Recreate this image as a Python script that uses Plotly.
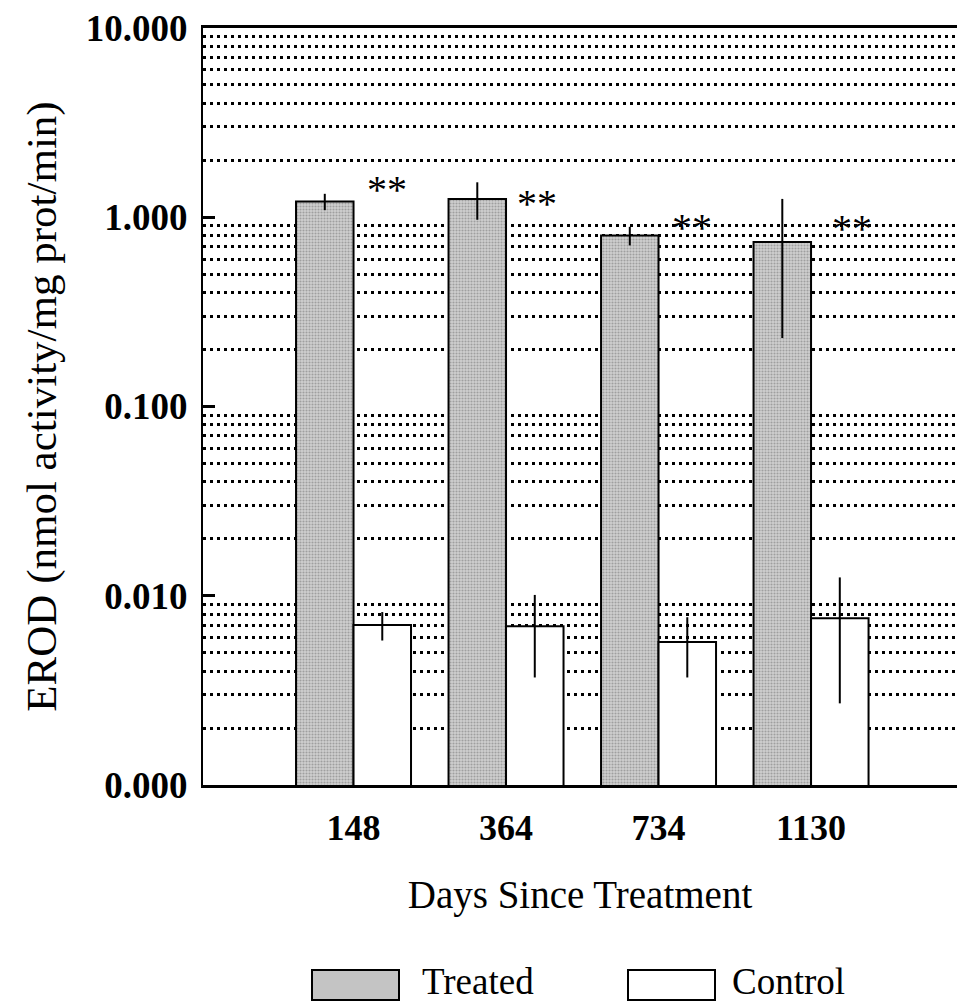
import math
import plotly.graph_objects as go

# ---- data ----
days = ["148", "364", "734", "1130"]
treated = [1.21, 1.25, 0.80, 0.74]
treated_err = [0.12, 0.28, 0.09, 0.51]
control = [0.0070, 0.0069, 0.0057, 0.0076]
control_err = [0.0012, 0.0032, 0.0020, 0.0049]
star_labels = ["**", "**", "**", "**"]
star_y = [1.40, 1.18, 0.88, 0.87]
star_dx = [0.22, 0.20, 0.22, 0.27]
ytick_vals = [0.001, 0.01, 0.1, 1, 10]
ytick_text = ["0.000", "0.010", "0.100", "1.000", "10.000"]

SERIF = "Liberation Serif"
xpos = list(range(len(days)))

fig = go.Figure()
fig.add_trace(go.Bar(
    name="Treated", x=xpos, y=treated,
    marker=dict(color="#c4c4c4", line=dict(color="black", width=2),
                pattern=dict(shape=".", fgcolor="#6e6e6e", bgcolor="#d0d0d0",
                             size=3, solidity=0.4)),
    error_y=dict(type="data", array=treated_err, color="black", thickness=2, width=0),
))
fig.add_trace(go.Bar(
    name="Control", x=xpos, y=control,
    marker=dict(color="white", line=dict(color="black", width=2)),
    error_y=dict(type="data", array=control_err, color="black", thickness=2, width=0),
))

annotations = []
for i, (t, yv, dx) in enumerate(zip(star_labels, star_y, star_dx)):
    annotations.append(dict(x=i + dx, y=math.log10(yv), xref="x", yref="y", text=t,
                            showarrow=False, font=dict(family=SERIF, size=40, color="black"),
                            xanchor="center", yanchor="middle"))

# manual legend (large swatches as in the reference)
W, H = 754.0, 757.0
def px(xp):
    return (xp - 203) / W
def py(yp):
    return (785 - yp) / H

shapes = [
    dict(type="rect", xref="paper", yref="paper", x0=px(312), x1=px(399), y0=py(1000), y1=py(970),
         line=dict(color="black", width=2), fillcolor="#c4c4c4", layer="above"),
    dict(type="rect", xref="paper", yref="paper", x0=px(628), x1=px(715), y0=py(1000), y1=py(970),
         line=dict(color="black", width=2), fillcolor="white", layer="above"),
]
annotations += [
    dict(x=px(420), y=py(981), xref="paper", yref="paper", text="Treated", showarrow=False,
         xanchor="left", yanchor="middle", font=dict(family=SERIF, size=37, color="black")),
    dict(x=px(730), y=py(981), xref="paper", yref="paper", text="Control", showarrow=False,
         xanchor="left", yanchor="middle", font=dict(family=SERIF, size=37, color="black")),
]

minor_vals = [m * 10 ** k for k in range(-3, 1) for m in range(2, 10)]

fig.update_layout(
    width=957, height=1003,
    margin=dict(l=203, r=0, t=28, b=218),
    paper_bgcolor="white", plot_bgcolor="white",
    barmode="group", bargap=0.246, bargroupgap=0,
    showlegend=False,
    font=dict(family=SERIF, color="black"),
    annotations=annotations,
    shapes=shapes,
)
fig.update_xaxes(
    range=[-0.987, 3.957],
    tickmode="array", tickvals=xpos, ticktext=days,
    tickfont=dict(family=SERIF, size=36, color="black", weight="bold"),
    ticks="", ticklabelstandoff=9,
    showline=True, linecolor="black", linewidth=3, mirror=True,
    showgrid=False, zeroline=False,
    title=dict(text="Days Since Treatment", font=dict(family=SERIF, size=39, color="black"), standoff=34),
)
fig.update_yaxes(
    type="log", range=[-3, 1],
    tickmode="array", tickvals=ytick_vals, ticktext=ytick_text,
    tickfont=dict(family=SERIF, size=37, color="black", weight="bold"),
    ticks="inside", ticklen=12, tickwidth=3, tickcolor="black", ticklabelstandoff=6,
    showline=True, linecolor="black", linewidth=2,
    showgrid=False, zeroline=False,
    minor=dict(tickmode="array", tickvals=minor_vals, showgrid=True, gridcolor="black",
               gridwidth=3, griddash="3px,4px", ticks=""),
    title=dict(text="EROD (nmol activity/mg prot/min)", font=dict(family=SERIF, size=43, color="black"),
               standoff=16),
)

fig.write_html("out.html")
